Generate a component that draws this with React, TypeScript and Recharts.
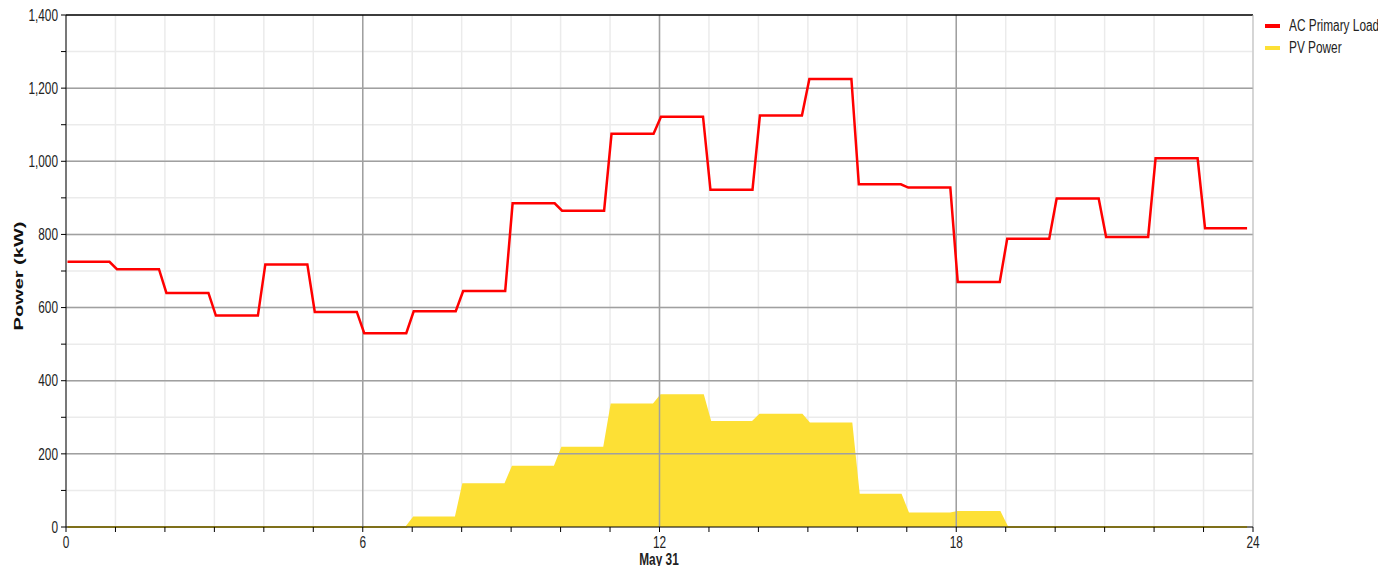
import React from 'react';
import {
  ComposedChart,
  Line,
  Area,
  XAxis,
  YAxis,
  CartesianGrid,
  ReferenceLine,
  Legend,
} from 'recharts';

// hourly values for May 31
const hours = [0, 1, 2, 3, 4, 5, 6, 7, 8, 9, 10, 11, 12, 13, 14, 15, 16, 17, 18, 19, 20, 21, 22, 23];
const acPrimaryLoad = [725, 705, 640, 578, 718, 588, 530, 590, 645, 885, 865, 1075, 1122, 922, 1125, 1225, 937, 928, 670, 788, 898, 793, 1008, 817];
const pvPower = [0, 0, 0, 0, 0, 0, 0, 26, 117, 165, 217, 335, 360, 287, 307, 283, 88, 37, 41, 0, 0, 0, 0, 0];

const xTicks = [0, 1, 2, 3, 4, 5, 6, 7, 8, 9, 10, 11, 12, 13, 14, 15, 16, 17, 18, 19, 20, 21, 22, 23, 24];
const xMajor = [6, 12, 18];
const yTicks = [0, 100, 200, 300, 400, 500, 600, 700, 800, 900, 1000, 1100, 1200, 1300, 1400];
const yMajor = [200, 400, 600, 800, 1000, 1200];

// each hour is held flat, with a short ramp into the next hour
const data = hours.flatMap((h, i) => [
  { t: h + 0.03, load: acPrimaryLoad[i], pv: pvPower[i] },
  { t: h + 0.88, load: acPrimaryLoad[i], pv: pvPower[i] },
]);

const FONT = "'Liberation Sans', Arial, sans-serif";
const SQUEEZE = 0.74; // the original text is narrow

const legendItems = [
  { name: 'AC Primary Load', color: '#ff0000' },
  { name: 'PV Power', color: '#fde035' },
];

function ChartLegend() {
  return (
    <div style={{ width: 128, boxSizing: 'border-box', paddingLeft: 12, fontFamily: FONT, fontSize: 16, color: '#222' }}>
      {legendItems.map((it) => (
        <div key={it.name} style={{ display: 'flex', alignItems: 'center', height: 22, whiteSpace: 'nowrap' }}>
          <span style={{ display: 'inline-block', width: 15, height: 4, background: it.color, marginRight: 9, flex: 'none' }} />
          <span style={{ display: 'inline-block', transform: `scaleX(${SQUEEZE})`, transformOrigin: 'left center' }}>{it.name}</span>
        </div>
      ))}
    </div>
  );
}

function XTick(props: any) {
  const { x, y, payload } = props;
  const v = payload.value as number;
  if (v % 6 !== 0) return <g />;
  return (
    <text transform={`translate(${x},${y}) scale(${SQUEEZE},1)`} textAnchor="middle" dy="0.71em" fill="#222" fontFamily={FONT} fontSize={16}>
      {v}
    </text>
  );
}

function YTick(props: any) {
  const { x, y, payload } = props;
  const v = payload.value as number;
  if (v % 200 !== 0) return <g />;
  return (
    <text transform={`translate(${x},${y}) scale(${SQUEEZE},1)`} textAnchor="end" dy="0.355em" fill="#222" fontFamily={FONT} fontSize={16}>
      {v.toLocaleString('en-US')}
    </text>
  );
}

export default function App() {
  return (
    <div style={{ margin: -8, background: '#fff', width: 1386, height: 574 }}>
      <ComposedChart width={1386} height={574} data={data} margin={{ top: 15, right: 5, bottom: 0, left: 0 }}>
        <CartesianGrid stroke="#ebebeb" strokeWidth={1.5} />
        {xMajor.map((x) => (
          <ReferenceLine key={`vx${x}`} x={x} stroke="#a0a0a0" strokeWidth={1.5} />
        ))}
        {yMajor.map((y) => (
          <ReferenceLine key={`hy${y}`} y={y} stroke="#a0a0a0" strokeWidth={1.5} />
        ))}
        <ReferenceLine y={1400} stroke="#000" strokeWidth={1.5} />
        <ReferenceLine x={24} stroke="#bbb" strokeWidth={1} />
        <XAxis
          dataKey="t"
          type="number"
          domain={[0, 24]}
          ticks={xTicks}
          interval={0}
          height={47}
          tickSize={5}
          tickMargin={5}
          stroke="#000"
          tick={<XTick />}
          label={{
            content: () => (
              <text transform={`translate(659,565) scale(${SQUEEZE},1)`} textAnchor="middle" fill="#222" fontFamily={FONT} fontSize={16} fontWeight="bold">
                May 31
              </text>
            ),
          }}
        />
        <YAxis
          type="number"
          domain={[0, 1400]}
          ticks={yTicks}
          interval={0}
          width={66}
          tickSize={5}
          tickMargin={3}
          stroke="#000"
          tick={<YTick />}
          label={{
            content: () => (
              <text transform="translate(19,276) scale(0.62,1) rotate(-90)" textAnchor="middle" dominantBaseline="central" fill="#111" fontFamily={FONT} fontSize={20} fontWeight="bold">
                Power (kW)
              </text>
            ),
          }}
        />
        <Legend layout="vertical" align="right" verticalAlign="top" content={() => <ChartLegend />} />
        <Area
          dataKey="pv"
          name="PV Power"
          type="linear"
          stroke="#fde035"
          strokeWidth={2}
          fill="#fde035"
          fillOpacity={1}
          isAnimationActive={false}
        />
        <Line
          dataKey="load"
          name="AC Primary Load"
          type="linear"
          stroke="#ff0000"
          strokeWidth={2.5}
          dot={false}
          isAnimationActive={false}
        />
      </ComposedChart>
    </div>
  );
}
